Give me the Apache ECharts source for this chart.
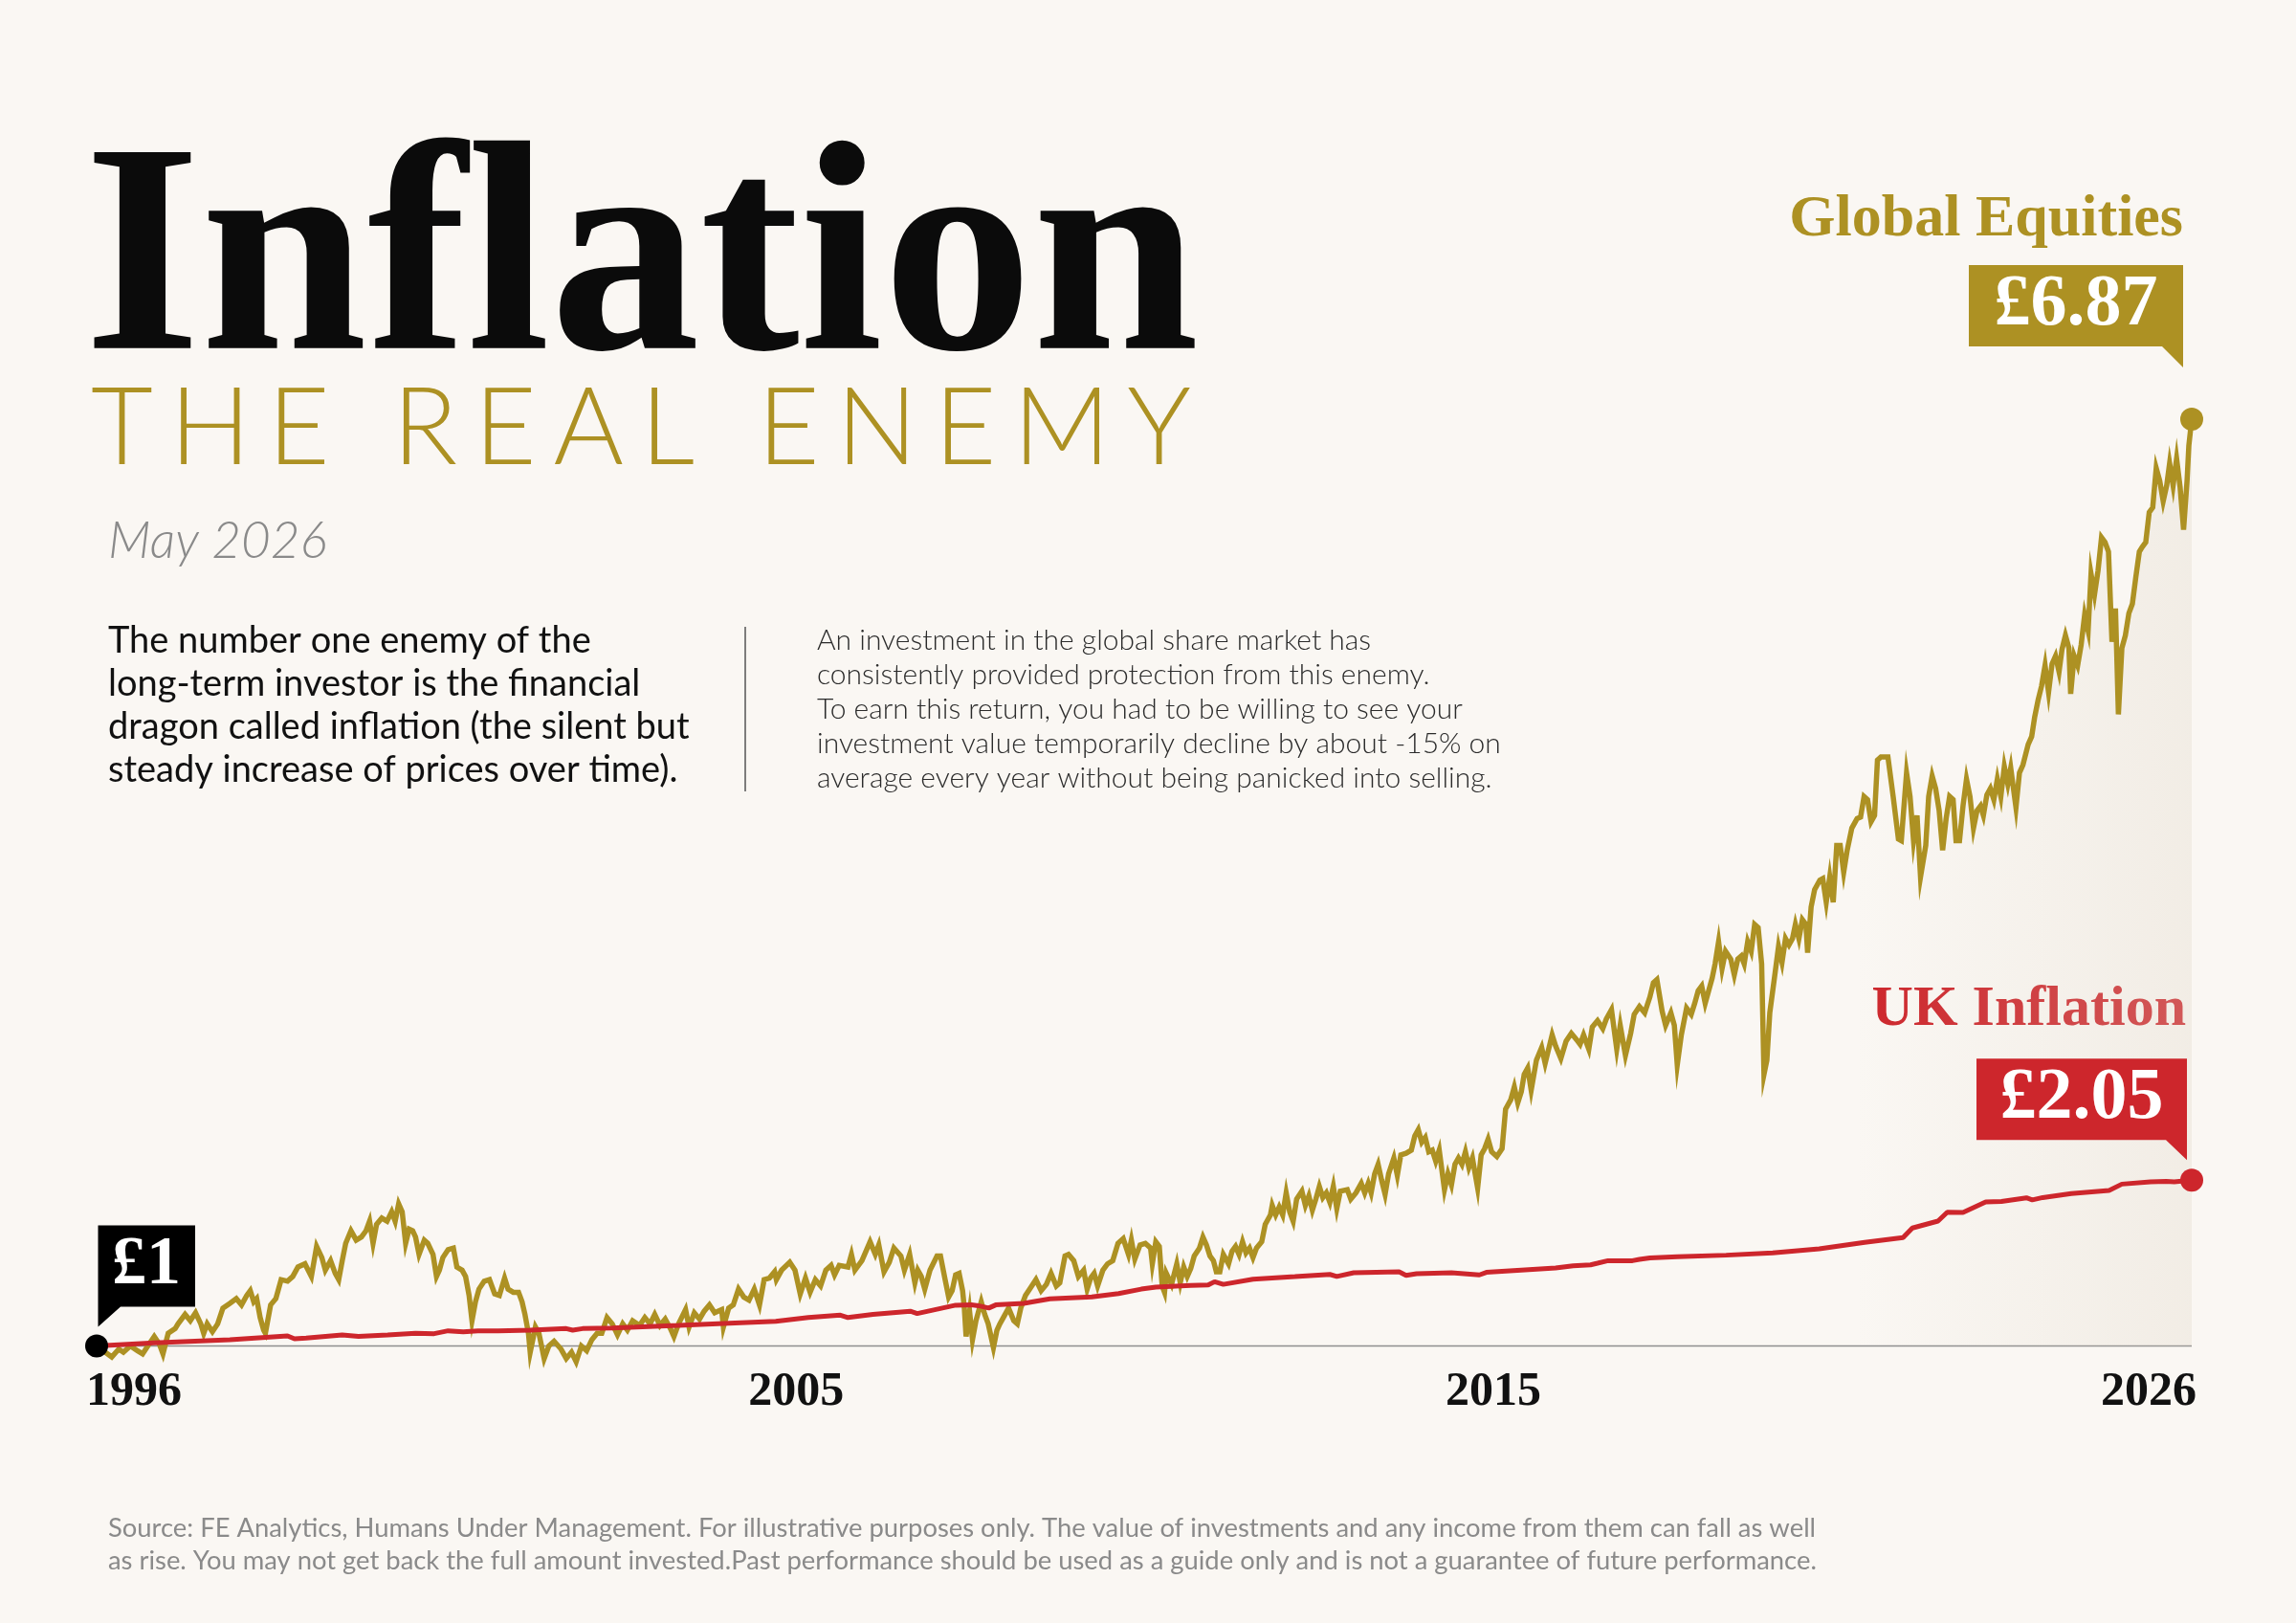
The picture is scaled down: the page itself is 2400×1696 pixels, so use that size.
<!DOCTYPE html>
<html>
<head>
<meta charset="utf-8">
<script src="https://cdn.jsdelivr.net/npm/echarts@6/dist/echarts.min.js"></script>
<style>
html,body{margin:0;padding:0;background:#faf7f3;}
#chart{width:2400px;height:1696px;}
</style>
</head>
<body>
<div id="chart"></div>
<script>
// ---------- DATA (months since May 1996, value of £1 invested) ----------
const equity = [
[0,1.00],[2.6,0.93],[3.8,0.98],[4.6,0.96],[5.8,1.00],[7.0,0.97],[7.9,0.95],[8.8,1.00],[9.9,1.06],[10.8,1.01],[11.4,0.95],[12.3,1.08],[13.5,1.11],[14.0,1.14],[15.2,1.20],[16.1,1.16],[17.0,1.21],[17.9,1.14],[18.4,1.08],[19.0,1.14],[19.9,1.09],[20.8,1.14],[21.7,1.24],[22.9,1.27],[24.0,1.30],[24.9,1.26],[25.8,1.32],[26.4,1.35],[27.0,1.28],[27.5,1.30],[28.1,1.18],[28.7,1.10],[29.0,1.08],[29.9,1.26],[30.8,1.30],[31.7,1.42],[32.8,1.41],[33.7,1.44],[34.6,1.50],[35.8,1.52],[36.9,1.44],[37.8,1.63],[38.7,1.56],[39.3,1.48],[40.2,1.54],[41.0,1.46],[41.6,1.42],[42.2,1.54],[42.8,1.65],[43.7,1.73],[44.6,1.67],[45.5,1.69],[46.3,1.73],[46.9,1.79],[47.5,1.65],[48.1,1.77],[49.0,1.81],[49.9,1.79],[50.7,1.85],[51.3,1.79],[51.9,1.90],[52.5,1.85],[53.1,1.65],[53.7,1.74],[54.3,1.73],[54.8,1.69],[55.4,1.58],[56.3,1.67],[56.9,1.65],[57.8,1.58],[58.4,1.44],[58.9,1.48],[59.5,1.56],[60.4,1.61],[61.3,1.62],[61.9,1.50],[62.8,1.48],[63.4,1.44],[64.0,1.32],[64.5,1.16],[65.1,1.28],[65.7,1.36],[66.6,1.41],[67.5,1.42],[68.4,1.33],[69.2,1.32],[70.1,1.43],[70.7,1.36],[71.6,1.34],[72.5,1.34],[73.1,1.28],[73.6,1.20],[74.2,1.08],[74.5,0.96],[75.4,1.12],[76.0,1.08],[76.9,0.92],[77.7,1.00],[78.6,1.03],[79.8,0.98],[80.7,0.92],[81.6,0.96],[82.4,0.90],[83.3,1.00],[84.2,0.97],[85.1,1.04],[86.0,1.08],[86.8,1.08],[87.7,1.18],[88.6,1.14],
[89.5,1.07],[90.4,1.14],[91.2,1.10],[92.1,1.16],[93.3,1.13],[94.2,1.18],[95.1,1.14],[95.9,1.20],[96.8,1.13],[97.7,1.17],[98.6,1.11],[99.2,1.06],[100.0,1.14],[101.2,1.23],[101.8,1.12],[102.7,1.21],[103.6,1.17],[104.4,1.22],[105.3,1.26],[106.2,1.21],[107.4,1.23],[107.7,1.12],[108.6,1.24],[109.4,1.26],[110.3,1.36],[111.2,1.31],[112.1,1.29],[113.0,1.36],[113.9,1.26],[114.7,1.42],[115.6,1.43],[116.5,1.47],[116.8,1.42],[117.7,1.48],[119.1,1.53],[120.0,1.48],[120.9,1.33],[121.8,1.43],[122.6,1.34],[123.5,1.42],[124.4,1.38],[125.3,1.48],[126.2,1.51],[126.8,1.45],[127.6,1.51],[129.1,1.50],[129.7,1.58],[130.3,1.48],[131.5,1.54],[132.9,1.66],[133.8,1.58],[134.4,1.64],[135.3,1.47],[136.2,1.53],[137.0,1.62],[138.2,1.57],[138.8,1.48],[139.7,1.58],[140.6,1.40],[141.1,1.48],[141.7,1.44],[142.3,1.36],[143.2,1.48],[144.4,1.57],[145.0,1.57],[145.8,1.42],[146.4,1.31],[147.0,1.35],[147.6,1.45],[148.2,1.46],[148.8,1.35],[149.1,1.24],[149.4,1.06],[150.0,1.22],[150.5,1.04],[151.1,1.16],[152.0,1.28],[152.6,1.20],[153.2,1.14],[153.8,1.04],[154.1,0.99],[154.7,1.10],[155.2,1.14],[155.8,1.18],[156.7,1.24],[157.6,1.16],[158.2,1.14],[158.8,1.24],[159.6,1.32],[160.5,1.37],[161.4,1.42],[162.3,1.35],[163.2,1.39],[164.0,1.46],[164.9,1.38],[165.5,1.40],[166.4,1.57],[167.0,1.58],[167.9,1.54],[168.7,1.44],[169.6,1.48],[170.2,1.36],[170.8,1.43],[171.4,1.46],[172.0,1.38],[172.9,1.48],[173.7,1.52],[174.6,1.54],[175.5,1.65],[176.4,1.68],[177.3,1.58],[177.8,1.67],[178.4,1.55],[179.3,1.64],[180.2,1.65],
[181.1,1.62],[181.4,1.52],[182.0,1.66],[182.6,1.63],[183.1,1.38],[183.5,1.34],[183.8,1.46],[184.7,1.39],[185.6,1.52],[186.2,1.40],[186.8,1.50],[187.4,1.44],[188.0,1.49],[188.6,1.57],[189.5,1.62],[190.1,1.69],[190.7,1.64],[191.3,1.57],[191.9,1.54],[192.4,1.47],[193.0,1.47],[193.6,1.58],[194.5,1.52],[195.1,1.60],[195.7,1.63],[196.3,1.58],[196.9,1.66],[197.5,1.59],[198.1,1.62],[198.7,1.56],[199.3,1.62],[200.2,1.66],[200.8,1.77],[201.7,1.83],[202.0,1.89],[202.6,1.83],[203.2,1.88],[203.8,1.83],[204.4,1.97],[205.0,1.85],[205.6,1.79],[206.2,1.93],[207.1,1.98],[207.7,1.89],[208.3,1.95],[208.9,1.86],[209.5,1.93],[210.1,2.01],[210.7,1.94],[211.3,1.97],[211.9,1.91],[212.5,2.01],[213.1,1.87],[213.7,1.98],[214.9,1.99],[215.5,1.93],[216.4,1.97],[217.3,2.03],[217.9,1.97],[218.5,2.03],[219.0,1.97],[219.6,2.09],[220.2,2.15],[220.8,2.05],[221.4,1.96],[222.0,2.09],[222.9,2.19],[223.5,2.08],[224.1,2.21],[225.0,2.22],[225.9,2.24],[226.5,2.33],[227.1,2.37],[227.7,2.29],[228.3,2.32],[228.9,2.23],[229.5,2.24],[230.1,2.17],[230.7,2.24],[231.6,1.99],[232.2,2.09],[232.8,2.02],[233.4,2.15],[234.0,2.19],[234.6,2.15],[235.2,2.23],[235.8,2.13],[236.4,2.19],[237.3,2.00],[237.9,2.21],[238.5,2.25],[239.1,2.31],[239.7,2.23],[240.6,2.20],[241.5,2.25],[242.1,2.50],[243.0,2.56],[243.6,2.64],[244.2,2.54],[244.8,2.61],[245.3,2.72],[245.9,2.76],[246.5,2.62],[247.4,2.81],[248.3,2.89],[248.9,2.79],[250.1,2.97],[250.7,2.90],[251.6,2.82],[252.5,2.93],[253.4,2.98],[254.3,2.94],[254.9,2.91],[255.5,2.97],[256.4,2.88],[257.0,3.02],[257.9,3.06],[258.8,3.01],[259.4,3.07],[260.3,3.13],[261.2,2.88],[261.8,3.03],[262.7,2.84],[263.6,2.98],[264.2,3.10],[265.1,3.15],[266.0,3.11],[266.9,3.21],[267.5,3.30],[268.1,3.32],[269.0,3.12],[269.6,3.03],[270.5,3.11],[271.1,3.03],[271.6,2.78],
[272.3,2.97],[273.2,3.14],[274.0,3.10],[274.6,3.17],[275.2,3.25],[275.8,3.28],[276.4,3.17],[277.0,3.25],[277.6,3.33],[278.1,3.42],[278.7,3.56],[279.3,3.39],[279.9,3.50],[280.8,3.45],[281.4,3.35],[282.0,3.45],[282.6,3.47],[283.1,3.42],[283.7,3.56],[284.3,3.50],[284.9,3.67],[285.5,3.65],[286.1,3.42],[286.5,2.72],[287.0,2.81],[287.5,3.11],[288.4,3.36],[289.0,3.53],[289.6,3.43],[290.2,3.58],[290.8,3.54],[291.4,3.58],[291.9,3.67],[292.5,3.58],[293.1,3.70],[293.7,3.67],[294.0,3.49],[294.6,3.78],[295.2,3.89],[296.1,3.95],[296.6,3.96],[297.2,3.81],[297.8,3.97],[298.4,3.81],[299.0,4.17],[299.6,4.17],[300.2,4.00],[300.8,4.14],[301.6,4.28],[302.5,4.34],[303.1,4.35],[303.7,4.48],[304.3,4.46],[304.9,4.32],[305.5,4.36],[306.0,4.71],[306.6,4.73],[307.2,4.73],[307.8,4.73],[308.7,4.48],[309.6,4.21],[310.1,4.20],[311.0,4.63],[311.6,4.48],[312.2,4.20],[312.8,4.36],[313.4,3.97],[314.3,4.17],[314.8,4.48],[315.4,4.61],[316.0,4.53],[316.6,4.39],[317.2,4.14],[317.8,4.34],[318.4,4.48],[319.0,4.46],[319.5,4.20],[320.1,4.20],[320.7,4.42],[321.3,4.59],[321.9,4.48],[322.5,4.28],[323.1,4.39],[323.7,4.42],[324.2,4.36],[324.8,4.49],[325.4,4.53],[326.0,4.46],[326.6,4.59],[327.2,4.48],[327.8,4.67],[328.4,4.56],[328.9,4.66],[329.8,4.41],[330.4,4.63],[331.0,4.68],[331.9,4.81],[332.5,4.86],[333.0,4.98],[333.6,5.09],[334.2,5.18],[334.8,5.31],[335.4,5.14],[336.0,5.32],[336.6,5.37],[337.2,5.27],[337.7,5.41],[338.3,5.50],[338.9,5.42],[339.2,5.13],[339.8,5.37],[340.4,5.31],[341.0,5.44],[341.6,5.63],[342.2,5.53],[342.7,5.89],[343.3,5.76],[343.9,5.91],[344.5,6.12],[345.1,6.09],[345.7,6.03],[346.3,5.46],[346.9,5.67],[347.4,5.00],[348.0,5.42],[348.6,5.50],[349.2,5.64],[349.8,5.70],[350.4,5.87],[351.0,6.03],[351.5,6.06],[352.1,6.09],[352.7,6.28],[353.3,6.31],[353.9,6.56],[354.5,6.48],[355.1,6.35],[355.7,6.45],[356.2,6.59],[356.8,6.45],[357.4,6.62],[358.0,6.44],[358.6,6.17],[359.2,6.48],[359.5,6.70],[360.0,6.87]
];
const inflation = [
[0,1.00],[9.9,1.02],[22.9,1.04],[32.8,1.064],[34,1.045],[36,1.05],[42.2,1.07],[45,1.06],[50,1.07],[54.8,1.08],[58,1.078],[60.4,1.096],[63,1.09],[65.5,1.096],[69,1.095],[74.5,1.10],[80.7,1.11],[81.8,1.10],[83.5,1.11],[88.6,1.113],[100,1.13],[108.7,1.144],[116.7,1.156],[122.3,1.18],[127.8,1.195],[129.1,1.18],[133.4,1.20],[139.8,1.22],[141,1.205],[147.6,1.258],[150.3,1.26],[151.5,1.255],[153.3,1.24],[154.5,1.26],[159.3,1.27],[163.8,1.298],[171,1.31],[175.6,1.332],[179.5,1.36],[182,1.373],[188,1.383],[191,1.386],[192.1,1.407],[193.6,1.39],[198.7,1.423],[205.9,1.439],[211.9,1.453],[213.1,1.44],[216,1.464],[223.8,1.47],[225,1.447],[226.8,1.458],[232.8,1.464],[237.6,1.45],[238.8,1.466],[244.8,1.48],[250.7,1.494],[253.7,1.508],[256.7,1.514],[257.9,1.524],[259.7,1.54],[263.9,1.54],[265.1,1.548],[266.9,1.558],[271.6,1.565],[280,1.575],[288,1.59],[296,1.615],[303.8,1.656],[310.4,1.686],[312,1.747],[316.4,1.791],[318,1.847],[320.7,1.845],[324.6,1.912],[327.3,1.915],[331.6,1.938],[332.6,1.925],[334.4,1.94],[339.3,1.965],[345.8,1.985],[348,2.025],[352.9,2.04],[355.6,2.043],[357,2.04],[360,2.05]
];
const tickMonths = [6.4, 120.2, 240, 352.6];
const tickLabels = ['1996', '2005', '2015', '2026'];
const startValue = 1;
const equityName = 'Global Equities';
const inflationName = 'UK Inflation';

// ---------- STYLE ----------
const GOLD = '#ad9123';
const RED = '#cd262c';
const BG = '#faf7f3';
const SERIF = '"Liberation Serif", "DejaVu Serif", serif';
const SANS = 'Lato, "Noto Sans", sans-serif';

// letter spacing for the subtitle only (canvas-level, state saved/restored)
const SUB_TEXT = 'THE REAL ENEMY';
const SUB_FONT = '300 112px Lato';
(function(){
  const c = document.createElement('canvas').getContext('2d');
  c.font = SUB_FONT;
  const w = c.measureText(SUB_TEXT).width;
  const spacing = Math.max(0, (1150 - w) / (SUB_TEXT.length - 1));
  const orig = CanvasRenderingContext2D.prototype.fillText;
  CanvasRenderingContext2D.prototype.fillText = function(t){
    if (t === SUB_TEXT && 'letterSpacing' in this) {
      this.save();
      this.letterSpacing = spacing + 'px';
      const r = orig.apply(this, arguments);
      this.restore();
      return r;
    }
    return orig.apply(this, arguments);
  };
})();

const chart = echarts.init(document.getElementById('chart'), null, {renderer: 'canvas'});

const lastEq = equity[equity.length - 1];
const lastInf = inflation[inflation.length - 1];

chart.setOption({
  animation: false,
  backgroundColor: BG,
  grid: {left: 101, right: 109, top: 416.5, bottom: 256.5},
  xAxis: {
    type: 'value', min: 0, max: 360,
    axisLine: {show: false}, axisTick: {show: false}, splitLine: {show: false},
    axisLabel: {
      customValues: tickMonths,
      formatter: v => tickLabels[tickMonths.indexOf(v)] || '',
      fontFamily: SERIF, fontWeight: 'bold', fontSize: 50, color: '#111',
      margin: 16, verticalAlign: 'middle'
    }
  },
  yAxis: {
    type: 'value', min: 0.8, max: 7.0, show: false,
    splitLine: {show: false}
  },
  series: [
    {
      type: 'line', name: 'baseline', data: [[0, startValue], [360, startValue]],
      symbol: 'none', silent: true, z: 1,
      lineStyle: {color: '#8e8e8e', width: 1.6}
    },
    {
      type: 'line', name: equityName, data: equity, showSymbol: false, symbol: 'none',
      z: 2, silent: true,
      lineStyle: {color: GOLD, width: 5.5, join: 'miter'},
      areaStyle: {
        origin: startValue,
        color: new echarts.graphic.LinearGradient(0, 0, 1, 0, [
          {offset: 0, color: 'rgba(222,212,196,0)'},
          {offset: 0.84, color: 'rgba(222,212,196,0)'},
          {offset: 1, color: 'rgba(222,212,196,0.42)'}
        ])
      }
    },
    {
      type: 'line', name: inflationName, data: inflation, showSymbol: false, symbol: 'none',
      z: 3, silent: true,
      lineStyle: {color: RED, width: 5}
    },
    {
      type: 'scatter', z: 5, silent: true, symbolSize: 24,
      itemStyle: {opacity: 1},
      data: [
        {value: [0, startValue], itemStyle: {color: '#000', opacity: 1}},
        {value: lastEq, itemStyle: {color: GOLD, opacity: 1}},
        {value: lastInf, itemStyle: {color: RED, opacity: 1}}
      ]
    }
  ]
});

// ---------- annotations anchored to the data points ----------
const P = v => chart.convertToPixel({xAxisIndex: 0, yAxisIndex: 0}, v);
const p0 = P([0, startValue]);
const pg = P(lastEq);
const pr = P(lastInf);

function bubbleRight(p, dx, top, bottom, w, tail, tip, color) {
  const r = p[0] - dx;
  return {
    type: 'polygon', silent: true, z: 10,
    shape: {points: [[r - w, p[1] - top], [r, p[1] - top], [r, p[1] - tip], [r - tail, p[1] - bottom], [r - w, p[1] - bottom]]},
    style: {fill: color}
  };
}

const gfx = [
  {type: 'text', x: 88, y: 283, silent: true,
   style: {text: 'Inflation', font: 'bold 313px ' + SERIF, fill: '#0b0b0b', textAlign: 'left', textVerticalAlign: 'middle'}},
  {type: 'text', x: 95, y: 449, silent: true,
   style: {text: SUB_TEXT, font: SUB_FONT, fill: GOLD, textAlign: 'left', textVerticalAlign: 'middle'}},
  {type: 'text', x: 113, y: 566, silent: true,
   style: {text: 'May 2026', font: 'italic 300 53px ' + SANS, fill: '#8a8a8a', textAlign: 'left', textVerticalAlign: 'middle'}},
  {type: 'text', x: 113, y: 647, silent: true,
   style: {text: 'The number one enemy of the\nlong-term investor is the financial\ndragon called inflation (the silent but\nsteady increase of prices over time).',
     font: '400 38px ' + SANS, lineHeight: 45, fill: '#111', textAlign: 'left', textVerticalAlign: 'top'}},
  {type: 'line', silent: true, shape: {x1: 779, y1: 655, x2: 779, y2: 827}, style: {stroke: '#555', lineWidth: 1.5}},
  {type: 'text', x: 854, y: 651, silent: true,
   style: {text: 'An investment in the global share market has\nconsistently provided protection from this enemy.\nTo earn this return, you had to be willing to see your\ninvestment value temporarily decline by about -15% on\naverage every year without being panicked into selling.',
     font: '300 30px ' + SANS, lineHeight: 36, fill: '#2b2b2b', textAlign: 'left', textVerticalAlign: 'top'}},
  {type: 'text', x: 113, y: 1580, silent: true,
   style: {text: 'Source: FE Analytics, Humans Under Management. For illustrative purposes only. The value of investments and any income from them can fall as well\nas rise. You may not get back the full amount invested.Past performance should be used as a guide only and is not a guarantee of future performance.',
     font: '400 27.4px ' + SANS, lineHeight: 34, fill: '#8a8a8a', textAlign: 'left', textVerticalAlign: 'top'}},

  {type: 'text', x: pg[0] - 9, y: pg[1] - 208, silent: true,
   style: {text: equityName, font: 'bold 62px ' + SERIF, fill: GOLD, textAlign: 'right', textVerticalAlign: 'middle'}},
  bubbleRight(pg, 9, 161, 76, 224, 22, 54, GOLD),
  {type: 'text', x: pg[0] - 9 - 112, y: pg[1] - 119, silent: true, z: 11,
   style: {text: '£' + lastEq[1].toFixed(2), font: 'bold 76px ' + SERIF, fill: '#fff', textAlign: 'center', textVerticalAlign: 'middle'}},

  {type: 'text', x: pr[0] - 6, y: pr[1] - 178, silent: true,
   style: {text: inflationName, font: 'bold 60px ' + SERIF, fill: RED, textAlign: 'right', textVerticalAlign: 'middle'}},
  bubbleRight(pr, 5, 127, 42, 220, 22, 21, RED),
  {type: 'text', x: pr[0] - 5 - 110, y: pr[1] - 85, silent: true, z: 11,
   style: {text: '£' + lastInf[1].toFixed(2), font: 'bold 76px ' + SERIF, fill: '#fff', textAlign: 'center', textVerticalAlign: 'middle'}},

  {type: 'polygon', silent: true, z: 10,
   shape: {points: [[p0[0] + 1.5, p0[1] - 126], [p0[0] + 103, p0[1] - 126], [p0[0] + 103, p0[1] - 41], [p0[0] + 25, p0[1] - 41], [p0[0] + 1.5, p0[1] - 20]]},
   style: {fill: '#000'}},
  {type: 'text', x: p0[0] + 52, y: p0[1] - 84, silent: true, z: 11,
   style: {text: '£' + startValue, font: 'bold 72px ' + SERIF, fill: '#fff', textAlign: 'center', textVerticalAlign: 'middle'}}
];

chart.setOption({graphic: {elements: gfx}});
</script>
</body>
</html>
